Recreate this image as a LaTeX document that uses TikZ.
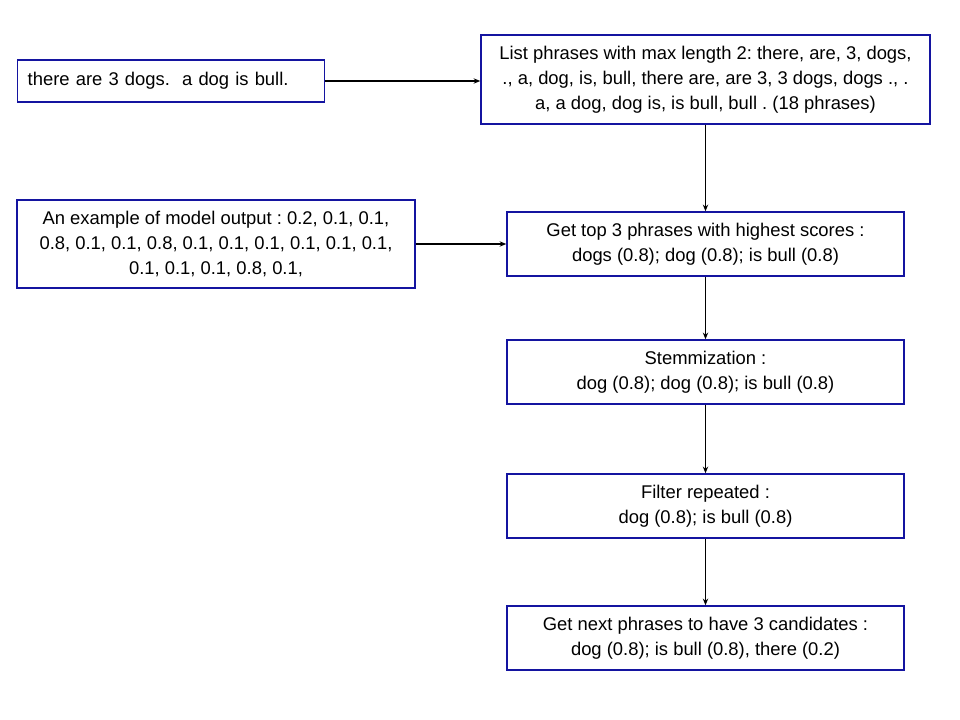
\documentclass[tikz,border=0pt]{standalone}
\usepackage{fontspec}
\setmainfont{Liberation Sans}
\usetikzlibrary{arrows.meta}
\definecolor{boxblue}{RGB}{20,20,160}
\frenchspacing
\tikzset{
  box/.style={draw=boxblue, line width=1.1pt, inner sep=0pt, align=center,
    font=\fontsize{13.8}{18.75}\selectfont},
  conn/.style={draw=black, line width=0.9pt, -{Stealth[length=5pt,width=4pt]}}
}
\begin{document}
\begin{tikzpicture}[x=0.75pt,y=-0.75pt]
\useasboundingbox (0,0) rectangle (960,720);
\node[box, anchor=west, align=left, text width=215.25pt, inner xsep=7.5pt,
  minimum height=31.5pt] (A) at (17,81) {there are 3 dogs.~ a dog is bull.};
\node[box, minimum width=336.75pt, minimum height=66.75pt] (B) at (705.5,79.5)
  {List phrases with max length 2: there, are, 3, dogs,\\ ., a, dog, is, bull, there are, are 3, 3 dogs, dogs ., .\\ a, a dog, dog is, is bull, bull . (18 phrases)};
\node[box, minimum width=298.5pt, minimum height=66pt] (C) at (216,244)
  {An example of model output : 0.2, 0.1, 0.1,\\ 0.8, 0.1, 0.1, 0.8, 0.1, 0.1, 0.1, 0.1, 0.1, 0.1,\\ 0.1, 0.1, 0.1, 0.8, 0.1,};
\node[box, minimum width=297.75pt, minimum height=48pt] (D) at (705.5,244)
  {Get top 3 phrases with highest scores :\\ dogs (0.8); dog (0.8); is bull (0.8)};
\node[box, minimum width=297.75pt, minimum height=48pt] (E) at (705.5,372)
  {Stemmization :\\ dog (0.8); dog (0.8); is bull (0.8)};
\node[box, minimum width=297.75pt, minimum height=48pt] (F) at (705.5,506)
  {Filter repeated :\\ dog (0.8); is bull (0.8)};
\node[box, minimum width=297.75pt, minimum height=48pt] (G) at (705.5,638)
  {Get next phrases to have 3 candidates :\\ dog (0.8); is bull (0.8), there (0.2)};
\draw[conn] (A.east) -- (A.east -| B.west);
\draw[conn] (C.east) -- (D.west);
\draw[conn] (B.south) -- (D.north);
\draw[conn] (D.south) -- (E.north);
\draw[conn] (E.south) -- (F.north);
\draw[conn] (F.south) -- (G.north);
\end{tikzpicture}
\end{document}
